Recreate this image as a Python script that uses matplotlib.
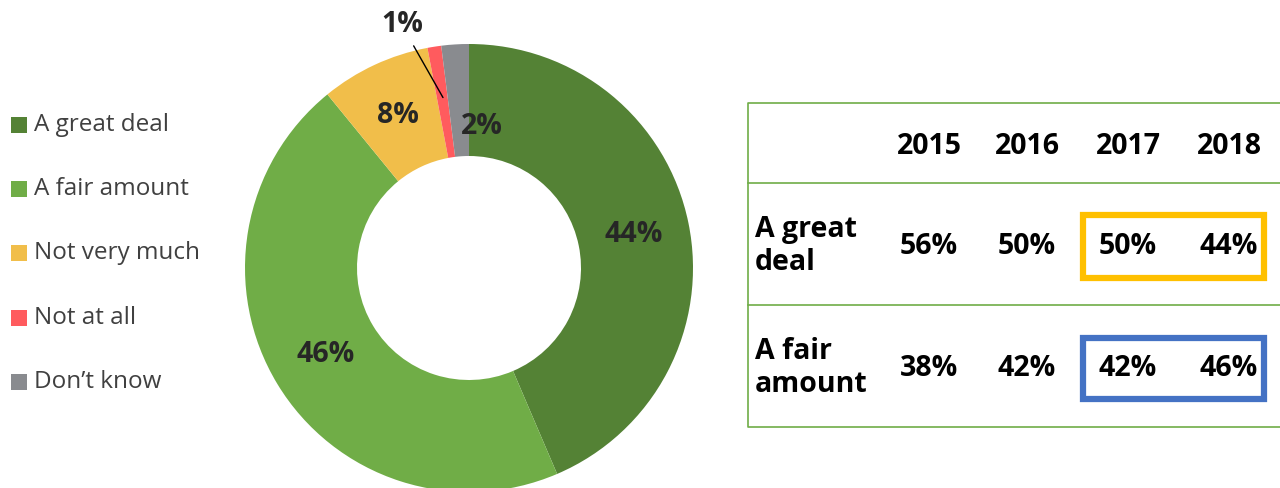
import matplotlib

matplotlib.use("Agg")

import matplotlib.pyplot as plt  # noqa: E402
import numpy as np  # noqa: E402
from matplotlib.patches import Rectangle  # noqa: E402

plt.rcParams["font.family"] = ["Open Sans", "DejaVu Sans"]

# Donut data
categories = ["A great deal", "A fair amount", "Not very much", "Not at all", "Don\u2019t know"]
shares = [44, 46, 8, 1, 2]
colors = ["#548235", "#70AD47", "#F1BE4A", "#FF5B5E", "#898B8F"]

# Table data
years = ["2015", "2016", "2017", "2018"]
row_labels = ["A great\ndeal", "A fair\namount"]
great_deal = [56, 50, 50, 44]
fair_amount = [38, 42, 42, 46]

W, H = 1280, 488
fig = plt.figure(figsize=(W / 100, H / 100), dpi=100)
fig.patch.set_facecolor("white")

# --- donut ---
cx, cy, R = 469, 268, 224
pie_ax = fig.add_axes([(cx - R) / W, (H - cy - R) / H, 2 * R / W, 2 * R / H])
wedges, _ = pie_ax.pie(
    shares, colors=colors, startangle=90, counterclock=False,
    radius=1, wedgeprops=dict(width=0.5, edgecolor="none"),
)
for w in wedges:
    w.set_clip_on(False)
pie_ax.set_xlim(-1, 1)
pie_ax.set_ylim(-1, 1)
pie_ax.set_aspect("equal")
pie_ax.axis("off")

label_kw = dict(fontsize=20.5, fontweight="bold", color="#262626", ha="center", va="center")
total = sum(shares)
start = 90.0
mids = []
for v in shares:
    span = v / total * 360
    mids.append(np.deg2rad(start - span / 2))
    start -= span

r_lab = 0.75
for i in (0, 1, 2):
    pie_ax.text(r_lab * np.cos(mids[i]), r_lab * np.sin(mids[i]), f"{shares[i]}%", **label_kw)

# small slices: 2% nudged right, 1% pulled outside with a leader
a2 = mids[4]
pie_ax.text(r_lab * np.cos(a2) + 0.105, r_lab * np.sin(a2) - 0.115, f"{shares[4]}%", **label_kw)
a1 = mids[3]
tip = (r_lab * np.cos(a1), r_lab * np.sin(a1) + 0.02)
pie_ax.annotate(
    f"{shares[3]}%", xy=tip, xytext=(-0.3, 1.085), annotation_clip=False,
    arrowprops=dict(arrowstyle="-", color="black", lw=1.0, shrinkA=3, shrinkB=0),
    **label_kw,
)

# --- legend and table drawn in pixel coordinates ---
ov = fig.add_axes([0, 0, 1, 1])
ov.set_xlim(0, W)
ov.set_ylim(H, 0)
ov.axis("off")
ov.patch.set_alpha(0)

legend_y = [125, 189, 253, 318, 382]
for name, col, y in zip(categories, colors, legend_y):
    ov.add_patch(Rectangle((11, y - 8), 16, 16, facecolor=col, edgecolor="none"))
    ov.text(34, y, name, fontsize=17.5, color="#404040", va="center", ha="left")

green = "#70AD47"
left, top, bottom = 748, 103, 427
ov.plot([W, left, left, W], [top, top, bottom, bottom], color=green, lw=1.2, clip_on=False)
for y in (183, 305):
    ov.plot([left, W], [y, y], color=green, lw=1.2)

col_x = [929, 1027, 1128, 1229]
cell_kw = dict(fontsize=20.5, fontweight="bold", color="black", ha="center", va="center")
for x, yr in zip(col_x, years):
    ov.text(x, 147, yr, **cell_kw)

row_y = [246, 368]
for y, lab, vals in zip(row_y, row_labels, [great_deal, fair_amount]):
    ov.text(755, y, lab, fontsize=20.5, fontweight="bold", color="black",
            ha="left", va="center", linespacing=1.2)
    for x, v in zip(col_x, vals):
        ov.text(x, y, f"{v}%", **cell_kw)

# highlight boxes around the last two years
ov.add_patch(Rectangle((1083, 215), 181, 63, fill=False, edgecolor="#FFC000", lw=4.5))
ov.add_patch(Rectangle((1083, 338), 181, 61, fill=False, edgecolor="#4472C4", lw=4.5))

fig.savefig("out.png", dpi=100, facecolor="white")
